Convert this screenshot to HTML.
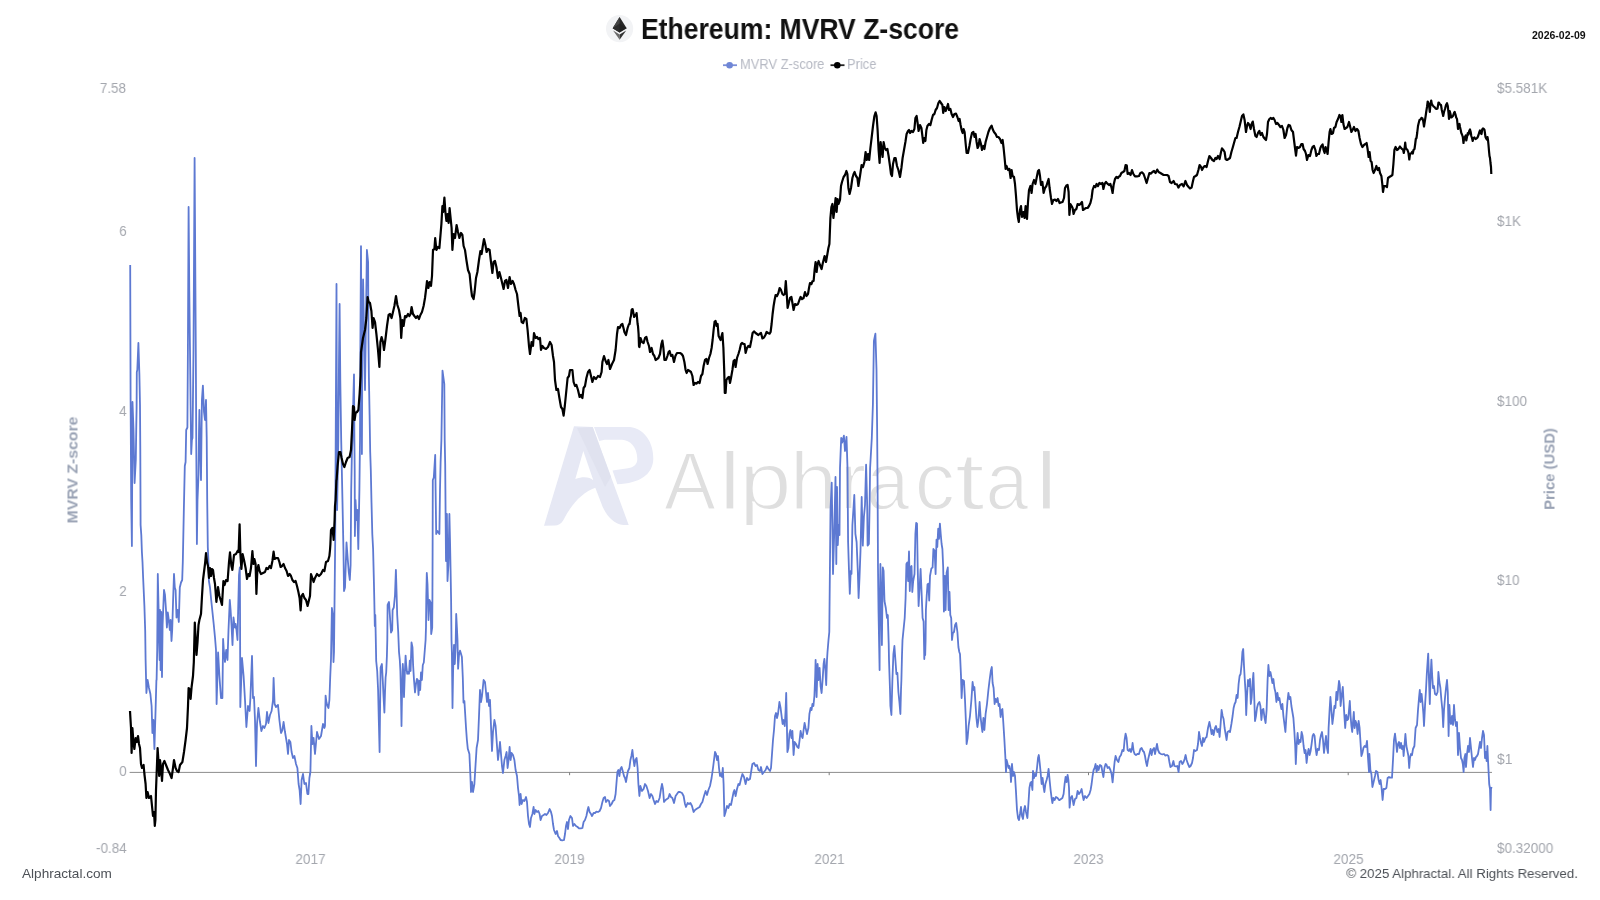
<!DOCTYPE html>
<html><head><meta charset="utf-8">
<style>
html,body{margin:0;padding:0;background:#fff;}
body{width:1600px;height:900px;position:relative;overflow:hidden;font-family:"Liberation Sans",sans-serif;}
.t{position:absolute;white-space:nowrap;line-height:1;}
.t{will-change:transform;}
.ax{color:#a4a7ae;font-size:13.9px;}
.axl{transform-origin:100% 0;transform:scaleX(0.97);}
.axr{transform-origin:0 0;transform:scaleX(0.97);}
.axx{transform-origin:50% 0;transform:scaleX(0.97);}
svg{position:absolute;left:0;top:0;}
</style></head><body>
<!-- watermark -->
<svg width="1600" height="900" viewBox="0 0 1600 900">
  <g id="wm">
    <path fill-rule="evenodd" d="M574,426.3 L592.7,427 L628.7,525 L623.3,525 C615,524 608,518 602.7,507 L595.3,487.7 C583,492 572,503 563.3,520.3 C561,524 558,525.5 555,525.5 L544,525.7 Z M583.3,451 L593.3,480.3 C590,477.5 584,476 575.3,479 Z" fill="#e6e8f4"/>
    <path d="M577,428 L592.7,427 L611,477 L605,487 Z" fill="#e0e2ef"/>
    <path d="M594,427 L630,427 C645,429 653.5,443 653.3,459 C653,474 640,483.5 617.3,484.3 L612.5,470.5 L628,468.3 C634,467.5 637.3,464 637.3,459 C637.3,447 630,440 622,439.7 L604.7,439.7 L599.3,441 Z" fill="#e8eaf6"/>
  </g>
  <g id="wmt" font-family="Liberation Sans, sans-serif" font-size="82" fill="#dfdfdf" stroke="#fff" stroke-width="1.8" paint-order="fill stroke"><text transform="translate(663.90,508.6) scale(0.949,1)">A</text><text transform="translate(718.38,508.6) scale(1.250,1)">l</text><text transform="translate(738.98,508.6) scale(1.156,1)">p</text><text transform="translate(789.82,508.6) scale(1.040,1)">h</text><text transform="translate(839.82,508.6) scale(0.964,1)">r</text><text transform="translate(866.37,508.6) scale(0.945,1)">a</text><text transform="translate(914.70,508.6) scale(0.979,1)">c</text><text transform="translate(954.70,508.6) scale(1.318,1)">t</text><text transform="translate(985.39,508.6) scale(0.940,1)">a</text><text transform="translate(1034.88,508.6) scale(1.250,1)">l</text></g>
  <line x1="129.6" y1="772.4" x2="1492" y2="772.4" stroke="#8c8c8c" stroke-width="1"/>
  <line x1="310.0" y1="772.4" x2="310.0" y2="775.2" stroke="#7d7d7d" stroke-width="1"/><line x1="569.6" y1="772.4" x2="569.6" y2="775.2" stroke="#7d7d7d" stroke-width="1"/><line x1="829.2" y1="772.4" x2="829.2" y2="775.2" stroke="#7d7d7d" stroke-width="1"/><line x1="1088.5" y1="772.4" x2="1088.5" y2="775.2" stroke="#7d7d7d" stroke-width="1"/><line x1="1348.2" y1="772.4" x2="1348.2" y2="775.2" stroke="#7d7d7d" stroke-width="1"/>
  <polyline id="blue" fill="none" stroke="#5d79d2" stroke-width="1.8" stroke-linejoin="round" points="130.2,265.0 130.6,400.0 131.2,500.0 131.9,546.0 132.3,450.0 132.5,402.0 133.5,430.0 134.6,483.0 135.8,460.0 136.3,425.0 136.6,408.0 136.8,372.0 137.3,370.0 138.4,343.0 139.4,375.0 140.0,405.0 140.3,450.0 140.6,525.0 141.3,535.0 141.9,552.0 142.5,562.0 143.1,577.0 144.4,606.0 145.2,631.0 145.6,660.0 146.4,693.0 147.6,680.0 149.0,688.0 150.4,694.0 151.6,706.0 152.4,733.0 153.4,720.0 154.4,749.0 155.4,716.0 156.4,680.0 156.6,680.0 157.2,650.0 157.8,574.0 158.5,605.0 159.0,640.0 159.6,660.0 160.0,610.0 160.6,670.0 161.2,612.0 162.0,677.0 162.6,625.0 163.1,612.0 164.0,590.0 165.0,595.0 166.0,610.0 166.9,627.5 167.8,612.5 168.8,620.0 169.8,630.0 170.6,620.0 171.5,641.0 172.2,630.0 173.1,600.0 174.0,574.0 174.8,587.5 175.6,590.0 176.5,617.5 177.5,610.0 178.8,622.0 179.8,587.5 181.0,582.5 182.2,580.0 182.8,562.0 183.8,512.0 184.8,466.0 185.6,462.0 186.2,430.0 187.4,427.5 187.9,350.0 188.6,207.0 189.3,291.0 190.0,350.0 190.6,405.0 191.2,454.0 191.9,440.0 192.5,438.0 192.9,405.0 193.5,350.0 194.6,158.0 195.8,350.0 196.3,450.0 196.9,544.0 197.5,500.0 198.5,475.0 199.0,432.0 199.4,410.0 200.2,450.0 201.0,480.0 201.9,400.0 202.9,385.6 204.0,412.0 205.0,420.0 206.0,400.0 206.7,437.0 207.2,500.0 207.8,547.0 208.4,560.0 208.9,581.0 210.0,587.5 211.2,600.0 212.5,612.5 213.8,625.0 215.0,637.5 216.0,650.0 216.6,704.0 218.1,652.5 219.4,676.0 221.0,698.0 222.4,698.0 223.1,639.0 223.8,650.0 225.0,662.0 226.2,650.0 227.5,660.0 228.5,630.0 229.8,600.0 230.6,610.0 231.5,625.0 232.5,645.0 233.5,617.5 234.8,627.5 235.6,624.0 236.5,630.0 237.5,640.0 238.1,612.5 239.0,575.0 239.8,567.5 240.0,600.0 240.3,707.0 242.0,658.0 243.6,676.0 245.0,700.0 246.4,727.0 248.0,706.0 249.6,711.0 250.4,698.0 252.0,656.0 253.0,698.0 254.0,697.0 255.0,720.0 256.0,766.0 257.0,724.0 258.4,708.0 260.0,722.0 261.4,731.0 263.0,726.0 264.4,728.0 266.0,724.0 267.0,712.0 268.4,723.0 270.0,715.0 271.6,711.0 273.0,700.0 273.6,678.0 274.6,704.0 276.0,707.0 278.0,705.0 279.4,720.0 281.0,733.0 282.4,730.0 283.6,722.0 285.0,732.0 287.0,744.0 288.0,754.0 289.0,740.0 290.4,742.0 291.6,752.0 293.0,758.0 294.4,756.0 296.0,764.0 297.4,768.0 298.6,784.0 299.6,790.0 300.6,804.0 301.6,780.0 303.0,774.0 304.4,784.0 306.0,783.0 307.4,794.0 308.4,794.0 309.4,778.0 310.4,772.0 311.4,726.0 312.4,744.0 313.6,738.0 315.0,754.0 317.0,732.0 319.0,739.0 321.0,736.0 323.0,724.0 324.4,728.0 325.0,726.0 325.6,695.6 326.5,702.5 327.5,706.0 328.5,708.0 329.4,700.0 330.2,677.5 331.0,659.0 331.9,608.0 332.8,615.0 333.5,662.0 334.0,652.0 335.2,540.0 335.8,420.0 336.5,284.0 336.8,400.0 337.1,510.0 338.3,440.0 339.0,360.0 339.6,304.0 340.3,380.0 341.2,440.0 342.5,502.5 343.5,552.5 344.0,591.0 345.0,587.5 346.5,542.5 347.5,556.0 348.8,572.5 349.8,580.0 350.6,565.0 351.2,490.0 351.9,452.5 352.5,440.0 353.3,400.0 354.0,374.4 354.4,440.0 354.7,471.0 354.9,536.0 355.5,500.0 356.5,520.0 357.3,510.0 358.3,549.0 359.4,490.0 360.0,440.0 360.4,340.0 361.0,246.2 361.4,340.0 361.9,454.0 362.4,340.0 363.1,279.4 364.0,330.0 365.0,390.0 365.8,330.0 366.9,250.0 368.1,262.0 368.5,340.0 368.9,377.5 369.6,415.0 370.2,452.0 370.8,470.0 371.5,502.5 372.3,534.0 373.1,549.0 373.8,577.5 374.3,600.0 374.8,626.0 375.3,615.0 375.8,640.0 376.2,661.0 377.2,671.0 378.1,690.0 378.8,720.0 379.6,752.0 380.0,715.0 380.6,667.5 381.9,664.0 382.8,681.0 383.5,696.0 384.4,712.5 385.0,692.5 385.6,677.5 386.2,672.5 386.9,656.0 387.3,640.0 387.6,605.0 389.0,602.0 390.0,617.5 391.0,632.5 392.2,630.0 392.6,610.0 393.8,607.5 395.0,595.0 395.9,569.8 396.5,590.0 397.2,615.0 398.2,632.0 399.0,652.0 399.8,660.0 400.4,671.0 401.0,696.0 401.5,726.0 402.1,690.0 402.8,664.0 403.5,677.5 404.0,697.0 404.8,673.8 405.6,655.6 406.2,665.0 407.2,673.8 408.1,672.0 409.0,673.8 409.8,660.6 410.6,671.0 411.5,642.5 412.5,647.5 413.1,665.0 414.0,680.0 415.0,692.5 416.0,683.8 416.9,678.8 417.8,680.0 418.5,695.0 419.4,681.0 420.2,690.0 421.0,672.5 421.9,680.0 422.8,665.0 423.8,662.5 424.8,650.0 425.6,640.0 426.0,627.0 426.3,596.0 426.8,573.0 427.5,584.0 428.5,620.0 429.4,600.0 430.6,602.5 431.2,634.0 432.2,627.5 432.4,602.5 432.6,552.0 432.8,480.0 433.8,477.5 435.2,455.0 435.6,490.0 436.2,534.0 437.5,531.0 439.4,534.0 440.0,490.0 440.6,462.5 441.4,440.0 442.5,370.6 444.3,384.0 444.7,440.0 445.2,465.0 445.6,515.0 446.0,561.0 446.9,514.0 447.5,581.0 448.4,565.0 449.4,514.0 450.0,540.0 450.6,571.0 451.1,600.0 451.5,640.0 451.9,652.5 452.5,708.0 453.1,671.0 454.0,645.0 454.8,664.0 455.6,647.5 456.2,614.0 456.9,627.5 457.5,640.0 458.1,668.8 459.0,655.0 460.0,650.6 461.0,653.8 461.9,657.0 462.8,677.5 463.5,702.5 464.4,701.0 465.0,711.0 466.0,727.5 466.9,740.0 467.8,748.8 468.8,752.0 469.4,754.0 470.4,776.0 471.0,792.0 472.0,782.0 473.0,792.0 474.4,784.0 475.6,764.0 476.6,748.0 478.0,740.0 479.0,716.0 480.0,690.0 481.0,702.0 482.0,696.0 483.6,680.0 485.0,682.0 486.0,692.0 487.0,702.0 488.0,693.0 489.0,706.0 490.0,700.0 491.0,726.0 492.0,751.0 493.0,732.0 494.4,720.0 495.6,726.0 497.0,746.0 498.0,760.0 499.4,748.0 500.0,742.0 501.0,754.0 502.0,766.0 503.0,773.0 504.4,760.0 505.6,756.0 506.6,752.0 507.6,768.0 508.6,760.0 509.6,747.0 510.6,760.0 511.6,753.0 513.0,755.0 514.4,760.0 515.6,770.0 517.0,776.0 518.0,788.0 519.0,796.0 519.6,805.0 520.6,794.0 521.6,804.0 523.0,800.0 524.4,801.0 526.0,797.0 527.0,802.0 528.0,816.0 529.0,824.0 530.0,827.0 531.0,818.0 532.4,814.0 533.6,807.0 534.4,814.0 535.6,810.0 537.0,812.0 538.4,811.0 539.6,814.0 540.6,820.0 542.0,816.0 543.6,815.0 545.0,814.0 546.4,815.0 548.0,813.0 549.6,809.0 551.0,812.0 552.0,816.0 553.0,824.0 554.0,830.0 555.6,834.0 557.0,831.0 558.0,836.0 559.4,838.0 560.6,840.0 562.4,840.4 564.0,840.0 565.0,834.0 566.0,826.0 567.0,822.0 568.0,829.0 569.0,820.0 570.4,816.0 572.0,818.0 573.0,826.0 574.4,824.0 576.0,826.0 577.6,827.0 579.0,828.4 581.0,828.4 582.4,828.0 583.6,822.0 585.0,820.0 586.4,816.0 587.6,810.0 588.4,807.0 589.6,812.0 591.0,814.0 592.0,816.0 593.6,813.0 595.0,813.0 596.4,811.6 598.0,812.0 599.6,811.0 601.0,808.0 602.4,802.0 603.6,798.0 605.0,797.0 606.0,802.0 607.6,800.0 609.0,801.0 610.0,806.0 611.6,804.0 613.0,801.0 614.4,800.0 615.6,794.0 616.4,784.0 617.4,772.0 618.4,770.0 619.4,776.0 620.4,769.0 621.6,767.0 623.0,772.0 624.0,776.0 625.0,778.0 626.0,782.0 627.0,776.0 628.0,771.0 629.4,768.0 630.4,760.0 631.4,756.0 632.4,750.0 633.4,759.0 634.4,766.0 635.4,760.0 636.6,758.0 637.6,768.0 638.4,784.0 639.4,796.0 640.4,786.0 642.0,791.0 643.6,789.0 645.0,784.0 646.4,786.0 648.0,791.0 649.6,798.0 651.0,794.0 652.4,796.0 653.6,800.0 655.0,804.0 656.4,801.0 658.0,802.0 659.6,798.0 661.0,789.0 662.0,784.0 663.0,789.0 664.0,802.0 665.6,800.0 667.0,799.0 668.4,798.0 669.6,794.0 671.0,797.0 672.4,798.0 674.0,803.0 675.6,796.0 677.0,794.0 678.4,792.0 680.0,792.0 682.0,793.0 683.6,796.0 685.0,804.0 686.0,807.0 687.6,803.0 689.0,804.0 690.4,803.0 692.0,806.0 693.6,812.0 695.0,810.0 696.4,809.0 698.0,808.0 699.6,807.0 701.0,804.0 702.4,802.0 704.0,796.0 705.6,791.0 707.0,795.0 708.4,790.0 710.0,786.0 711.6,778.0 713.0,768.0 714.0,760.0 715.0,752.0 716.0,754.0 717.0,760.0 718.0,756.0 719.0,768.0 720.0,776.0 721.0,774.0 722.0,777.0 722.8,768.0 723.6,784.0 724.4,816.0 725.6,812.0 727.0,806.0 728.4,808.0 729.6,804.0 731.0,805.0 732.0,800.0 733.6,792.0 734.4,790.0 735.6,796.0 737.0,789.0 738.4,784.0 739.6,785.0 741.0,779.0 742.4,774.0 744.0,777.0 745.6,784.0 747.0,778.0 748.4,780.0 750.0,779.0 751.4,770.0 752.4,764.0 754.0,763.0 755.6,766.0 757.0,765.0 758.4,770.0 760.0,771.0 761.0,767.0 762.4,774.0 764.0,772.0 765.6,770.0 767.0,766.4 768.4,769.0 770.0,771.0 771.0,768.0 772.0,754.0 773.0,740.0 774.0,730.0 775.0,716.0 776.0,713.0 777.0,718.0 778.0,714.0 779.4,702.0 780.6,708.0 781.6,716.0 782.6,724.0 783.6,720.0 784.8,726.0 785.6,710.0 786.2,693.0 786.8,720.0 787.4,752.0 788.4,748.0 789.4,734.0 790.4,730.0 791.4,738.0 792.4,731.0 793.6,755.0 794.6,742.0 796.0,744.0 797.4,747.0 798.6,748.0 799.6,740.0 800.6,731.0 801.6,736.0 802.6,738.0 803.6,730.0 804.6,723.0 805.6,728.0 807.0,734.0 808.4,728.0 809.4,714.0 810.6,708.0 811.6,710.0 812.4,704.0 813.4,706.0 814.4,696.0 815.2,676.0 815.6,660.0 816.6,697.0 817.6,664.0 818.6,680.0 819.6,668.0 820.6,686.0 821.6,693.0 822.6,680.0 823.6,664.0 824.4,659.0 825.4,670.0 826.2,685.0 827.0,660.0 827.5,652.0 828.5,640.0 829.3,632.0 830.0,560.0 830.5,510.0 831.7,482.6 832.5,530.0 833.0,574.0 834.2,534.0 835.5,477.0 836.3,564.0 837.0,487.0 837.8,545.0 838.6,525.0 839.5,535.0 840.0,468.0 841.2,438.0 842.2,442.5 843.9,435.7 845.0,451.0 846.5,436.8 847.5,468.0 848.1,542.0 849.0,571.0 849.8,593.8 850.7,571.0 851.5,574.0 852.4,525.0 853.7,505.0 854.3,495.0 855.4,533.8 856.6,542.0 857.8,571.0 858.6,598.0 859.5,577.7 860.5,550.7 861.7,497.0 862.8,545.6 863.9,517.0 865.0,505.0 866.1,464.7 867.2,506.0 867.6,545.6 868.9,544.0 869.6,505.0 870.1,468.0 871.8,438.0 872.9,404.5 873.9,341.0 875.4,333.7 876.5,369.6 877.1,425.6 877.6,489.0 878.0,567.5 878.5,610.0 879.2,648.0 879.6,670.0 879.9,600.0 880.4,564.0 881.2,600.0 881.9,645.0 882.8,567.5 883.6,571.0 884.5,601.0 885.8,608.0 887.0,618.0 887.8,615.0 888.7,643.5 889.0,660.0 890.0,690.0 890.4,706.0 891.4,715.0 892.4,680.0 893.4,654.0 894.4,646.0 895.4,660.0 896.4,674.0 897.4,673.0 898.4,692.0 899.4,702.0 900.4,714.0 901.0,690.0 901.4,680.0 902.0,655.0 902.5,640.0 903.0,635.0 904.7,618.0 905.6,598.0 906.4,564.0 907.3,562.5 908.1,581.0 909.0,551.5 909.8,591.0 910.6,567.5 911.5,566.0 912.3,592.0 913.2,581.0 914.5,574.0 915.4,534.0 916.2,522.8 917.0,523.6 917.7,567.5 918.6,606.0 919.6,588.0 920.6,569.0 921.6,593.0 922.6,618.0 923.6,621.6 924.3,659.0 924.8,646.0 925.2,655.0 925.6,640.0 925.9,610.0 926.7,596.0 927.5,584.5 928.4,583.6 929.2,600.5 930.0,576.0 931.4,568.4 932.6,567.5 933.4,549.0 934.6,550.7 935.6,574.0 936.5,539.7 937.3,547.0 938.2,528.7 939.0,538.9 939.9,523.6 940.7,533.8 941.6,544.0 942.4,549.0 943.2,567.5 943.9,611.5 944.9,576.0 945.6,610.0 946.6,572.6 947.8,567.5 948.6,610.0 949.5,592.0 950.3,615.0 951.2,618.0 952.0,640.0 952.9,633.0 954.0,632.0 955.1,625.0 956.2,623.0 957.4,632.0 958.4,647.0 959.3,652.0 960.0,654.0 961.0,676.0 961.6,698.0 962.6,680.0 964.0,681.0 965.0,700.0 966.0,724.0 966.6,744.0 967.6,738.0 968.6,726.0 970.0,716.0 971.4,700.0 972.6,682.0 973.6,690.0 974.4,687.0 975.4,702.0 976.4,718.0 977.4,727.0 978.4,720.0 979.6,702.0 980.6,717.0 981.6,726.0 982.4,732.0 983.4,718.0 984.4,730.0 985.6,714.0 987.0,704.0 988.4,690.0 989.6,680.0 990.8,671.0 991.8,667.0 992.6,683.0 993.6,688.0 994.6,704.0 995.6,699.0 996.6,702.0 997.6,698.0 998.6,706.0 999.6,704.0 1000.6,717.0 1001.6,710.0 1002.4,709.0 1003.4,724.0 1004.4,740.0 1005.4,758.0 1006.0,772.0 1006.6,760.0 1007.6,764.0 1008.6,768.0 1009.4,766.0 1010.4,771.0 1011.0,782.0 1012.0,764.0 1013.0,776.0 1014.0,772.0 1015.0,776.0 1016.0,792.0 1017.0,810.0 1018.0,818.0 1019.0,820.0 1020.0,814.0 1021.0,807.0 1022.0,816.0 1023.0,819.0 1024.0,810.0 1025.0,806.0 1026.0,812.0 1027.4,818.0 1028.4,804.0 1029.4,788.0 1030.4,783.0 1031.4,782.0 1032.4,790.0 1033.0,771.0 1034.0,778.0 1035.0,774.0 1036.0,776.0 1037.0,768.0 1038.0,758.0 1038.8,755.0 1039.6,762.0 1040.6,772.0 1041.6,784.0 1042.6,778.0 1043.6,787.0 1044.4,792.0 1045.4,784.0 1046.6,780.0 1047.6,776.0 1048.6,769.0 1049.6,780.0 1050.6,790.0 1051.6,798.0 1052.4,803.0 1053.4,798.0 1054.6,800.0 1056.0,797.0 1057.6,798.0 1059.0,800.0 1059.6,800.0 1061.0,799.0 1062.4,798.0 1063.6,794.0 1064.6,784.0 1065.6,777.0 1066.6,782.0 1067.6,775.0 1068.4,780.0 1069.0,788.0 1069.6,807.6 1070.6,798.0 1072.0,796.0 1073.6,805.0 1075.0,799.0 1076.4,798.0 1077.6,791.0 1079.0,794.0 1080.4,792.0 1081.6,789.0 1082.6,795.0 1083.6,800.0 1085.0,796.0 1086.6,798.0 1088.0,796.0 1089.4,794.0 1090.6,790.0 1091.6,784.0 1092.6,776.0 1093.6,770.0 1094.6,768.0 1095.6,764.0 1096.6,772.0 1097.6,766.0 1098.6,770.0 1100.0,765.0 1101.4,766.0 1102.4,772.0 1103.4,777.0 1104.4,768.0 1105.6,764.0 1106.6,765.0 1107.6,768.0 1109.0,767.0 1110.4,770.0 1111.6,774.0 1112.6,782.4 1113.6,772.0 1114.6,762.0 1115.6,756.0 1117.0,760.0 1118.4,762.0 1119.6,757.0 1121.0,755.0 1122.4,750.0 1123.6,751.0 1124.6,740.0 1125.6,733.6 1126.6,738.0 1127.6,750.0 1129.0,751.0 1130.0,749.0 1131.0,752.0 1132.0,748.0 1132.6,743.0 1133.6,751.0 1134.6,754.0 1136.0,755.0 1137.4,754.0 1139.0,754.0 1140.4,749.0 1141.6,748.0 1143.0,751.0 1144.0,752.0 1145.0,756.0 1146.0,762.0 1147.0,766.0 1148.0,760.0 1149.4,754.0 1150.6,749.0 1151.6,755.0 1152.6,750.0 1154.0,748.0 1155.0,754.0 1156.0,749.0 1157.0,744.0 1158.0,750.0 1159.4,753.0 1161.0,754.0 1162.4,754.4 1164.0,754.0 1165.4,755.6 1167.0,755.0 1168.4,756.0 1169.4,762.0 1170.4,767.0 1172.0,766.0 1173.4,761.0 1174.4,766.0 1176.0,766.4 1177.4,766.0 1178.6,772.0 1179.6,762.0 1181.0,761.0 1182.4,764.0 1183.6,762.0 1184.6,759.0 1185.6,755.0 1186.6,760.0 1188.0,764.0 1189.4,767.0 1190.6,766.0 1192.0,763.0 1193.0,758.0 1194.0,750.0 1195.4,751.0 1197.0,750.0 1198.0,744.0 1199.0,732.0 1200.0,738.0 1201.0,743.0 1202.0,746.0 1203.0,738.0 1204.0,742.0 1205.4,738.0 1206.6,737.0 1208.0,728.0 1209.4,722.0 1210.6,728.0 1211.6,734.0 1212.6,730.0 1213.6,735.0 1215.0,728.0 1216.0,726.0 1217.4,732.0 1218.6,729.0 1219.6,737.0 1220.6,724.0 1221.6,710.0 1222.6,716.0 1223.6,719.0 1224.6,728.0 1225.6,734.0 1226.6,740.0 1227.6,732.0 1229.0,731.0 1230.0,732.0 1231.4,724.0 1232.6,716.0 1233.6,708.0 1234.6,704.0 1235.6,702.0 1236.6,695.0 1237.6,698.0 1238.6,684.0 1239.6,676.0 1240.6,674.0 1241.6,664.0 1242.4,652.0 1243.2,649.0 1244.0,666.0 1244.8,680.0 1245.6,693.0 1246.2,715.0 1247.0,696.0 1248.0,680.0 1249.0,686.0 1250.0,679.0 1250.8,704.0 1251.6,698.0 1252.6,682.0 1253.4,673.0 1254.2,696.0 1255.0,721.0 1256.0,716.0 1257.0,708.0 1258.0,704.0 1259.4,702.0 1260.4,706.0 1261.4,720.0 1262.4,710.0 1263.4,709.0 1264.4,717.0 1265.6,723.0 1266.6,710.0 1267.6,680.0 1268.4,665.0 1269.4,676.0 1270.4,672.0 1271.4,677.0 1272.4,683.0 1273.4,679.0 1274.4,688.0 1275.4,692.0 1276.4,702.0 1277.4,693.0 1278.4,700.0 1279.4,698.0 1280.4,704.0 1281.4,709.0 1282.4,704.0 1283.4,716.0 1284.4,724.0 1285.4,732.0 1286.4,716.0 1287.4,702.0 1288.4,693.0 1289.4,699.0 1290.4,697.0 1291.4,706.0 1292.4,712.0 1293.4,718.0 1294.4,732.0 1295.2,746.0 1295.8,764.0 1296.6,746.0 1297.6,733.0 1298.6,744.0 1299.6,740.0 1300.6,742.0 1301.6,732.0 1302.6,736.0 1303.6,746.0 1304.6,753.0 1305.6,750.0 1306.6,763.0 1307.6,754.0 1308.6,749.0 1309.6,755.0 1310.6,751.0 1311.6,744.0 1312.6,736.0 1313.6,734.0 1314.6,736.0 1315.6,748.0 1316.6,755.0 1317.6,749.0 1319.0,750.0 1320.0,740.0 1321.0,735.0 1322.0,732.0 1323.0,740.0 1324.0,753.0 1325.0,744.0 1326.0,736.0 1327.0,748.0 1328.0,753.0 1328.6,728.0 1329.6,710.0 1330.4,697.0 1331.4,710.0 1332.4,724.0 1333.4,716.0 1334.4,706.0 1335.4,708.0 1336.4,692.0 1337.4,700.0 1338.2,689.0 1339.0,681.0 1339.8,685.0 1340.6,706.0 1341.6,696.0 1342.8,687.0 1343.6,702.0 1344.4,716.0 1345.2,728.0 1346.2,715.0 1347.2,720.0 1348.2,719.0 1349.0,710.0 1349.8,701.0 1350.6,716.0 1351.4,726.0 1352.2,732.0 1353.0,722.0 1353.8,712.0 1354.6,728.0 1355.6,721.0 1356.6,724.0 1357.6,734.0 1358.6,721.0 1359.6,728.0 1360.6,744.0 1361.4,756.0 1362.4,753.0 1363.4,748.0 1364.6,746.0 1366.0,747.0 1367.0,741.0 1368.0,758.0 1369.0,772.0 1369.4,754.0 1370.4,770.0 1371.4,774.0 1372.4,787.0 1373.6,782.0 1375.0,776.0 1376.0,771.0 1377.4,772.0 1378.6,780.0 1379.6,784.0 1380.6,780.0 1381.6,788.0 1382.6,800.0 1383.6,789.0 1385.0,789.0 1386.4,788.0 1387.6,778.0 1389.0,777.0 1390.4,777.6 1392.0,777.6 1393.0,760.0 1394.0,740.0 1395.0,733.6 1396.0,742.0 1397.0,752.0 1398.0,744.0 1399.0,742.0 1400.0,748.0 1401.0,743.0 1402.0,749.0 1403.0,746.0 1403.6,756.0 1404.6,744.0 1405.4,734.0 1406.4,746.0 1407.4,751.0 1408.4,756.0 1409.2,768.0 1410.0,758.0 1411.0,754.0 1412.0,755.0 1413.0,749.0 1414.4,746.0 1415.6,728.0 1417.0,725.0 1418.0,710.0 1419.0,698.0 1419.8,690.0 1420.6,702.0 1421.6,694.0 1422.6,704.0 1423.4,714.0 1424.0,726.0 1425.0,706.0 1426.0,690.0 1426.8,674.0 1427.6,662.0 1428.2,653.6 1429.0,680.0 1429.8,704.0 1430.6,676.0 1431.4,659.6 1432.2,676.0 1433.0,688.0 1434.0,686.0 1435.0,694.0 1436.4,695.0 1437.6,692.0 1438.4,672.0 1439.4,682.0 1440.4,688.0 1441.4,700.0 1442.4,710.0 1443.2,727.0 1444.0,710.0 1445.0,698.0 1446.0,688.0 1447.0,680.0 1447.8,692.0 1448.6,736.0 1449.4,705.0 1450.2,720.0 1451.0,724.0 1452.0,716.0 1453.0,725.0 1454.0,705.0 1455.0,720.0 1456.0,726.0 1457.0,722.0 1458.0,755.0 1459.0,733.0 1460.0,748.0 1461.0,758.0 1462.0,760.0 1462.8,764.0 1463.6,772.0 1464.4,758.0 1465.4,754.0 1466.0,767.0 1467.0,754.0 1468.0,746.0 1469.0,752.0 1470.0,738.0 1471.0,748.0 1472.0,758.0 1473.0,767.0 1474.0,758.0 1475.0,760.0 1476.0,757.0 1477.0,756.0 1478.0,754.0 1479.0,748.0 1480.0,742.0 1481.0,748.0 1482.0,738.0 1483.0,731.0 1484.0,735.0 1485.0,758.0 1486.0,752.0 1486.6,761.0 1487.4,746.0 1488.0,760.0 1488.6,772.0 1489.2,784.0 1490.0,789.0 1490.6,810.0 1491.0,789.0 1491.6,787.0"/>
  <polyline id="black" fill="none" stroke="#000" stroke-width="2.2" stroke-linejoin="round" points="130.0,711.0 131.0,728.0 131.6,753.0 132.4,728.0 133.6,744.0 134.4,749.0 135.6,738.0 136.8,742.0 138.0,736.0 139.0,744.0 140.0,748.0 141.0,764.0 142.0,768.0 143.6,765.0 144.4,774.0 145.6,784.0 146.4,798.0 147.6,792.0 149.0,798.0 151.0,796.0 152.0,806.0 153.0,816.0 154.0,812.0 154.8,826.0 155.4,820.0 156.0,790.0 157.0,764.0 157.6,748.0 158.4,760.0 159.2,776.0 160.0,760.0 161.0,768.0 162.0,781.0 163.0,764.0 164.4,761.0 166.0,765.0 168.0,770.0 170.0,774.0 171.6,778.0 173.0,768.0 174.0,760.0 175.6,768.0 177.0,771.0 178.6,772.0 180.0,765.0 182.4,762.0 184.0,752.0 185.6,740.0 187.0,728.0 188.0,706.0 188.6,688.0 190.0,690.0 190.6,699.0 191.6,687.0 193.0,676.0 193.8,662.5 194.8,622.5 195.6,637.5 196.5,655.0 197.5,642.5 198.5,625.0 199.4,620.0 201.0,614.0 202.0,596.0 203.0,580.0 204.0,572.0 205.0,564.0 206.0,553.0 207.0,562.0 208.0,566.0 209.0,578.0 210.0,568.0 211.0,576.0 212.0,569.0 213.0,570.0 214.0,578.0 215.0,584.0 216.4,602.0 218.0,587.0 219.4,596.0 220.6,600.0 222.0,605.0 223.4,581.0 224.6,585.0 226.0,580.0 227.6,581.0 229.0,562.0 230.0,552.4 231.4,566.0 232.4,570.0 234.0,555.0 236.0,554.0 237.6,551.0 238.6,552.0 239.6,524.4 240.4,554.0 241.4,569.0 242.6,554.0 244.0,560.0 245.6,568.0 247.0,579.0 248.4,574.0 249.6,576.0 251.0,568.0 252.4,551.0 253.4,564.0 254.4,559.0 255.6,564.0 256.4,594.0 257.4,569.0 258.4,565.0 259.6,571.0 261.0,574.0 263.0,573.0 265.0,572.0 266.4,568.0 268.0,569.0 269.6,566.0 271.0,568.0 272.4,561.0 273.6,551.6 274.6,559.0 276.4,558.0 278.0,558.0 279.4,562.0 280.6,567.0 282.0,566.0 283.6,564.0 285.0,568.0 286.6,571.0 288.0,576.0 289.6,574.0 291.0,576.0 292.4,580.0 294.0,582.0 295.6,581.0 297.0,586.0 298.4,592.0 299.6,598.0 300.6,610.4 301.6,596.0 303.0,594.0 304.4,598.0 306.0,600.0 307.6,606.0 309.0,600.0 310.0,596.0 311.0,574.0 312.4,578.0 313.6,582.0 315.0,578.0 317.0,574.0 319.0,576.0 321.0,574.0 323.0,570.0 324.4,571.0 326.0,562.0 328.0,561.0 329.4,556.0 330.0,550.0 330.4,544.0 331.0,530.0 331.6,529.0 332.4,528.0 332.6,530.0 333.6,539.0 333.6,540.0 334.6,520.0 335.0,506.0 335.6,500.0 336.4,480.0 336.6,480.0 337.6,466.0 337.6,466.0 339.0,452.0 340.4,452.0 341.6,458.0 343.0,464.0 344.4,467.0 346.0,462.0 347.6,458.0 349.6,457.0 351.0,450.0 352.0,430.0 353.0,406.0 354.0,407.0 354.6,420.0 355.6,413.0 357.0,412.0 358.4,410.0 359.6,394.0 360.6,376.0 361.0,352.0 363.0,338.0 365.0,330.0 366.4,318.0 367.6,297.0 368.6,302.0 370.0,303.0 371.4,311.0 372.6,328.0 373.6,318.0 375.0,322.0 376.4,334.0 378.0,350.0 379.4,367.0 380.4,342.0 381.6,337.0 383.0,342.0 384.0,350.0 385.6,338.0 387.0,326.0 388.6,315.0 390.0,314.0 391.6,318.0 393.0,312.0 394.4,306.0 396.0,296.0 397.4,305.0 399.0,310.0 400.4,318.0 401.2,338.0 402.4,320.0 403.6,326.0 405.0,316.0 406.4,317.0 408.0,314.0 409.4,316.0 410.6,314.0 411.6,307.0 413.0,314.0 414.4,316.0 416.0,318.0 417.6,316.0 419.0,319.0 420.4,315.0 422.0,312.0 423.6,306.0 425.0,298.0 426.0,290.0 427.0,281.0 428.4,288.0 429.6,282.0 431.0,286.0 432.0,276.0 433.0,250.0 434.4,249.0 435.2,238.0 436.4,250.0 438.0,247.0 439.4,248.0 440.4,236.0 441.4,224.0 442.4,206.0 443.2,212.0 444.4,197.6 445.4,212.0 446.4,221.0 447.6,214.0 448.6,223.0 449.6,208.0 450.6,218.0 451.6,228.0 452.4,250.0 453.6,234.0 455.0,238.0 456.6,225.0 458.0,232.0 459.4,238.0 461.0,233.0 462.4,235.0 463.6,246.0 465.0,250.0 466.4,260.0 468.0,270.0 469.6,274.0 471.0,288.0 472.0,296.0 473.6,299.0 474.6,292.0 476.0,278.0 477.4,272.0 479.0,260.0 480.4,251.0 481.6,254.0 482.8,246.0 484.0,239.0 485.4,245.0 486.6,252.0 488.0,249.0 489.6,250.0 491.0,262.0 492.4,273.0 493.6,262.0 495.0,261.0 496.4,267.0 498.0,278.0 499.4,272.0 501.0,278.0 502.4,284.0 503.6,289.0 505.0,281.0 506.4,280.0 508.0,288.0 509.6,277.0 511.0,284.0 512.6,281.0 514.0,284.0 515.6,290.0 517.0,294.0 518.4,306.0 519.6,316.0 520.6,313.0 521.6,322.0 523.2,323.0 524.8,318.0 526.4,319.0 527.6,330.0 529.0,346.0 530.0,354.0 531.6,342.0 533.0,346.0 534.0,333.0 535.6,338.0 537.0,337.0 538.4,339.0 540.0,338.0 541.0,350.0 542.4,346.0 544.0,348.0 546.0,349.0 548.0,347.0 550.0,342.0 551.6,345.0 553.0,356.0 554.0,362.0 555.0,380.0 556.4,390.0 558.0,389.0 559.4,398.0 561.0,407.0 562.4,409.0 563.6,415.6 564.8,406.0 566.4,390.0 567.6,378.0 569.0,376.0 570.0,370.0 572.4,370.0 573.6,382.0 575.0,386.0 576.4,385.0 578.0,390.0 579.6,397.0 581.0,395.0 582.4,398.0 583.6,388.0 585.0,386.0 586.4,378.0 588.0,372.0 589.6,370.0 591.0,376.0 592.4,382.0 594.0,377.0 596.0,379.0 598.0,376.0 600.0,377.0 601.6,372.0 602.4,362.0 604.0,356.0 605.6,361.0 607.0,364.0 608.4,360.0 610.0,369.0 612.0,364.0 614.0,360.0 615.6,350.0 617.0,334.0 618.0,327.0 619.6,328.0 621.0,325.0 622.4,324.0 624.0,330.0 624.4,332.0 626.0,335.0 626.0,335.0 627.6,328.0 627.6,328.0 629.0,324.0 629.6,324.0 630.4,318.0 631.0,316.0 631.6,310.0 632.4,309.0 632.6,309.0 634.0,316.0 634.0,317.0 635.4,315.0 635.6,315.0 636.4,314.0 636.6,313.0 637.6,324.0 638.0,326.0 638.6,334.0 639.0,346.0 639.4,347.0 640.6,338.0 642.0,342.0 643.6,343.0 645.0,338.0 646.4,337.0 647.6,342.0 649.0,346.0 650.0,352.0 651.6,348.0 653.0,354.0 654.4,356.0 655.6,360.0 657.0,359.0 658.4,358.0 660.0,354.0 661.4,344.0 662.4,340.6 663.4,348.0 664.4,360.0 666.0,360.0 667.4,356.0 668.6,352.0 669.6,351.0 671.0,356.0 672.4,355.0 674.0,362.0 675.4,356.0 677.0,353.0 678.4,353.0 680.0,353.0 681.6,354.0 683.0,356.0 684.4,362.0 685.6,370.0 686.6,373.0 688.0,370.0 689.6,371.0 691.0,372.0 692.4,376.0 693.6,385.0 695.0,383.0 696.4,383.6 698.0,382.0 699.6,383.0 701.0,376.0 702.4,374.0 703.6,366.0 705.0,360.0 706.4,359.0 707.6,364.0 709.0,358.0 710.4,354.0 711.6,348.0 712.6,340.0 713.6,330.0 714.6,321.6 715.6,321.0 716.6,326.0 717.6,324.0 718.6,336.0 719.6,338.0 720.6,340.0 721.6,336.0 722.4,333.0 723.4,348.0 724.2,370.0 724.8,393.0 725.6,393.0 726.4,380.0 727.6,378.0 729.0,377.0 730.0,383.0 731.0,378.0 732.4,370.0 733.6,361.0 734.6,360.0 735.6,367.0 737.0,358.0 738.4,354.0 739.6,350.0 741.0,344.0 742.0,343.0 743.4,344.0 744.6,344.0 745.6,353.0 747.0,348.0 748.4,346.0 750.0,347.0 751.4,340.0 752.6,333.0 754.0,331.4 755.6,333.0 757.0,334.0 758.4,335.0 759.6,334.0 761.0,333.0 762.4,338.4 764.0,337.6 765.4,335.0 766.6,332.0 768.0,333.0 769.6,333.6 770.6,332.0 771.6,324.0 772.6,314.0 773.6,306.0 774.6,300.0 775.6,295.0 777.0,296.0 778.4,293.0 779.6,288.0 781.0,290.0 782.4,294.0 783.6,295.0 784.8,294.0 785.8,281.0 786.6,292.0 787.6,308.0 788.6,304.0 790.0,298.0 791.4,297.0 792.6,304.0 793.6,310.0 795.0,304.0 796.4,305.0 798.0,304.0 799.4,300.0 800.6,297.0 802.0,299.0 803.6,298.0 805.0,292.0 806.4,296.0 808.0,294.0 809.0,288.0 810.0,283.0 811.4,284.0 812.6,281.0 813.6,281.0 814.6,270.0 815.6,262.0 816.6,272.0 817.6,264.0 818.6,261.0 820.0,265.0 821.6,269.0 822.6,264.0 823.6,260.0 824.6,256.0 826.0,262.0 827.4,254.0 828.4,248.0 829.4,244.0 830.4,218.0 831.4,207.0 832.4,204.0 833.4,218.0 834.4,210.0 835.6,198.0 836.6,212.0 837.6,199.0 838.6,204.0 840.0,200.0 841.0,186.0 842.0,182.0 843.6,177.0 845.0,175.0 846.4,171.0 847.4,174.0 848.4,188.0 849.6,194.0 851.0,188.0 852.4,178.0 853.6,174.0 854.6,172.0 856.0,176.0 857.4,178.0 858.4,186.0 860.0,176.0 861.6,165.0 863.0,167.0 864.4,162.0 865.6,152.0 866.8,160.0 868.0,154.0 869.2,160.0 870.4,148.0 871.6,138.0 873.0,126.0 874.4,116.0 875.6,112.4 876.6,116.0 877.6,130.0 878.6,150.0 879.6,163.0 880.6,142.0 881.6,150.0 882.6,157.0 883.6,142.0 884.8,148.0 886.0,150.0 887.4,149.0 888.6,156.0 890.0,166.0 891.0,174.0 892.0,176.0 893.0,164.0 894.4,158.0 895.6,158.0 897.0,166.0 898.4,170.0 900.0,177.0 901.4,168.0 902.6,158.0 904.0,150.0 905.4,142.0 906.6,134.0 908.0,131.0 909.0,130.0 910.0,133.0 911.4,131.0 913.0,132.0 914.4,129.0 915.4,118.0 916.6,116.0 917.6,123.0 918.6,131.0 920.0,125.0 921.4,128.0 922.4,136.0 923.2,143.0 924.4,138.0 925.4,141.0 926.4,130.0 927.4,126.0 929.0,124.0 930.4,125.0 931.6,120.0 933.0,115.0 934.4,114.0 935.6,110.0 937.0,108.0 938.4,103.0 939.6,101.0 941.0,103.0 942.4,105.0 943.2,113.0 944.4,107.0 945.6,111.0 946.8,108.0 948.0,104.0 949.0,110.0 950.4,109.0 951.6,114.0 953.0,117.0 954.4,114.0 956.0,113.6 957.4,117.0 958.6,121.0 959.6,119.0 960.6,125.0 961.6,130.0 962.6,133.0 963.6,129.0 964.6,132.0 965.6,143.0 966.6,153.0 968.0,153.0 969.4,146.0 970.6,139.0 972.0,133.0 973.4,132.0 974.6,137.0 975.6,134.0 976.6,142.0 977.6,148.0 978.6,146.0 979.6,139.0 981.0,144.0 982.0,150.0 983.4,146.0 984.4,149.0 985.6,142.0 987.0,137.0 988.4,132.0 990.0,128.0 991.6,125.6 992.6,129.0 994.0,132.0 995.6,134.0 997.0,137.0 998.4,137.0 1000.0,139.0 1001.4,143.0 1002.6,140.0 1003.6,148.0 1004.6,158.0 1005.6,169.0 1006.6,166.0 1008.0,170.0 1009.4,169.0 1010.6,178.0 1011.6,170.0 1012.6,176.0 1014.0,177.0 1015.0,184.0 1016.0,196.0 1017.0,210.0 1018.0,218.0 1018.8,222.0 1020.0,210.0 1021.0,206.0 1022.0,217.0 1023.4,212.0 1024.6,218.0 1025.6,206.0 1027.0,219.0 1028.0,202.0 1029.0,190.0 1030.4,186.0 1031.6,193.0 1032.6,184.0 1034.0,180.0 1035.4,184.0 1036.6,178.0 1038.0,171.0 1039.0,170.0 1040.0,176.0 1041.0,185.0 1042.4,182.0 1043.6,193.0 1045.0,188.0 1046.4,186.0 1047.6,182.0 1048.6,179.0 1049.6,188.0 1051.0,198.0 1052.0,204.0 1053.4,200.0 1055.0,199.6 1056.4,201.0 1058.0,199.0 1059.6,203.0 1061.0,202.4 1062.6,202.0 1064.0,198.0 1065.0,188.0 1066.4,185.6 1067.6,185.0 1068.6,192.0 1069.4,215.0 1070.4,204.0 1071.6,206.0 1072.6,208.0 1073.6,214.0 1075.0,210.0 1076.4,209.0 1077.6,204.0 1079.0,205.0 1080.4,204.0 1082.0,202.0 1083.0,210.0 1084.4,209.0 1086.0,208.0 1087.6,208.0 1089.0,206.0 1090.4,203.0 1091.6,198.0 1092.6,190.0 1094.0,186.0 1095.4,187.0 1096.6,184.0 1098.0,186.0 1099.4,183.0 1101.0,184.0 1102.4,183.0 1103.4,189.0 1104.6,184.0 1106.0,182.0 1107.4,183.6 1109.0,185.0 1110.4,184.0 1111.6,188.0 1112.6,193.0 1113.6,185.0 1115.0,179.0 1116.4,177.0 1118.0,178.0 1118.4,177.0 1120.0,176.0 1121.4,173.0 1123.0,172.0 1124.4,171.0 1125.6,165.0 1126.8,165.6 1127.6,174.0 1129.0,173.0 1130.6,175.0 1132.0,170.0 1133.4,174.0 1135.0,176.4 1137.0,176.4 1139.0,176.0 1140.4,173.0 1142.0,172.4 1143.6,174.0 1145.0,178.0 1146.6,183.0 1148.0,178.0 1149.4,173.0 1151.0,173.6 1152.4,172.0 1154.0,171.0 1155.6,173.0 1157.2,169.6 1158.6,172.0 1160.4,173.0 1162.0,174.0 1163.6,175.0 1165.4,175.0 1167.0,175.0 1168.6,176.0 1170.0,182.0 1171.6,183.0 1173.6,181.0 1175.0,184.0 1177.0,184.4 1178.4,187.6 1180.0,185.0 1182.0,184.0 1183.6,186.4 1185.4,181.0 1187.0,185.0 1188.6,187.0 1190.0,188.4 1191.6,187.6 1193.0,181.0 1194.0,177.0 1195.6,176.0 1197.0,175.0 1198.4,170.0 1199.6,165.0 1201.0,167.0 1202.0,170.0 1203.6,167.0 1205.0,166.0 1206.6,167.0 1208.0,161.0 1209.4,156.0 1211.0,158.0 1212.4,160.0 1214.0,161.0 1215.4,158.0 1216.6,159.0 1218.0,156.0 1219.6,159.0 1221.0,152.0 1222.0,148.4 1223.4,150.0 1224.6,152.0 1225.6,159.0 1227.0,160.0 1228.6,159.0 1230.0,158.0 1231.4,152.0 1232.6,148.0 1234.0,143.0 1235.4,138.0 1236.6,138.0 1238.0,132.0 1239.4,127.0 1240.6,122.0 1242.0,116.0 1243.4,114.4 1244.6,120.0 1246.0,132.0 1247.0,126.0 1248.0,123.0 1249.4,125.0 1250.6,129.0 1251.6,124.0 1252.8,121.6 1254.0,129.0 1255.4,136.0 1256.6,137.0 1258.0,133.0 1259.4,131.0 1260.6,135.0 1262.0,133.0 1263.4,137.0 1265.0,139.0 1266.0,140.0 1267.0,134.0 1268.0,122.0 1269.4,119.0 1270.6,118.0 1272.0,119.0 1273.4,118.0 1274.6,120.0 1276.0,124.0 1277.4,123.0 1279.0,125.0 1280.4,127.0 1282.0,126.0 1283.4,130.0 1284.6,138.0 1286.0,135.0 1287.4,128.0 1288.6,125.0 1290.0,125.6 1291.4,130.0 1293.0,132.0 1294.0,140.0 1295.0,148.0 1296.0,155.6 1297.0,147.0 1298.4,148.0 1300.0,147.0 1301.4,144.0 1302.6,144.0 1303.6,149.0 1305.0,151.0 1306.0,154.0 1307.0,160.0 1308.4,155.0 1310.0,156.0 1311.4,150.0 1312.6,147.0 1314.0,146.0 1315.4,150.0 1316.4,156.0 1317.6,154.0 1319.0,154.0 1320.4,148.0 1321.6,145.6 1322.6,144.4 1323.6,150.0 1324.6,153.0 1325.6,147.0 1326.6,150.0 1327.6,154.0 1328.6,142.0 1329.6,132.0 1330.4,129.0 1331.6,134.0 1333.0,133.0 1334.0,128.0 1335.4,127.0 1336.6,122.0 1338.0,119.0 1339.4,115.0 1340.4,116.0 1341.4,122.0 1342.4,115.0 1343.4,124.0 1344.6,129.0 1346.0,128.0 1347.4,127.0 1349.0,122.0 1350.0,126.0 1351.4,132.0 1352.6,130.0 1354.0,127.0 1355.4,131.0 1357.0,129.0 1358.4,131.0 1359.6,138.0 1361.0,144.0 1362.4,147.0 1364.0,145.0 1365.4,144.0 1366.6,143.0 1367.6,149.0 1368.6,157.0 1369.6,152.0 1370.6,161.0 1371.6,162.0 1372.6,170.0 1373.6,173.0 1375.0,170.0 1376.4,166.0 1377.6,170.0 1379.0,168.0 1380.0,173.0 1381.4,176.0 1382.4,185.0 1383.0,192.0 1384.0,186.0 1385.6,186.0 1387.0,187.0 1388.0,178.0 1389.4,177.0 1391.0,176.0 1392.4,175.0 1393.4,164.0 1394.4,150.0 1395.6,147.0 1397.0,150.0 1398.4,149.0 1399.6,147.0 1400.0,146.5 1401.0,148.0 1402.0,149.0 1403.0,149.5 1403.8,153.0 1404.5,149.0 1405.2,142.5 1405.8,148.0 1406.5,149.0 1407.5,150.0 1408.5,153.0 1409.3,159.5 1410.0,154.0 1411.0,153.5 1412.0,152.0 1412.8,153.5 1413.5,150.0 1414.5,149.0 1415.2,144.0 1415.8,139.0 1416.5,138.0 1417.2,133.0 1418.0,126.0 1418.7,123.0 1419.5,120.0 1420.5,119.5 1421.5,117.8 1422.5,118.5 1423.2,121.0 1424.0,126.5 1424.7,122.0 1425.5,117.0 1426.2,112.0 1427.0,107.0 1427.7,101.5 1428.3,103.0 1429.0,105.0 1429.8,112.0 1430.5,104.0 1431.2,100.5 1431.8,104.0 1432.5,105.0 1433.5,106.5 1434.5,107.0 1435.5,108.5 1436.5,109.0 1437.5,108.5 1438.5,102.5 1439.2,103.0 1440.0,104.5 1441.0,105.0 1441.8,110.0 1442.5,113.0 1443.2,116.0 1444.0,112.0 1445.0,109.0 1446.0,105.0 1447.0,103.2 1447.8,106.0 1448.5,113.0 1449.0,119.0 1449.7,111.0 1450.5,114.0 1451.2,117.5 1452.0,117.0 1453.0,116.0 1454.0,113.0 1454.7,112.0 1455.5,114.5 1456.2,117.5 1457.0,119.0 1457.5,124.0 1458.0,129.0 1458.8,124.5 1459.5,124.0 1460.0,127.0 1460.7,130.0 1461.3,133.0 1462.0,134.5 1462.8,137.0 1463.5,143.0 1464.2,137.5 1465.0,137.0 1465.7,135.5 1466.3,140.5 1467.0,137.0 1467.8,133.0 1468.5,134.5 1469.2,131.0 1470.0,129.5 1470.7,132.0 1471.3,136.0 1472.0,138.0 1472.7,141.0 1473.5,138.0 1474.5,137.5 1475.5,139.0 1476.5,138.5 1477.5,137.5 1478.5,135.0 1479.2,132.5 1480.0,130.5 1480.7,133.0 1481.5,134.0 1482.2,129.5 1483.0,128.5 1483.8,129.0 1484.5,130.0 1485.0,133.5 1485.5,137.0 1486.2,138.5 1486.8,139.5 1487.5,137.0 1488.0,140.0 1488.5,145.0 1489.0,151.0 1489.5,156.0 1490.0,158.0 1490.5,163.0 1491.0,167.0 1491.3,174.0"/>
  <!-- legend markers -->
  <line x1="723" y1="65.2" x2="737" y2="65.2" stroke="#7b8fd8" stroke-width="1.8"/><circle cx="729.6" cy="65.2" r="3.3" fill="#6f86d6"/>
  <line x1="830.5" y1="65.2" x2="844.5" y2="65.2" stroke="#222" stroke-width="1.8"/><circle cx="837.3" cy="65.2" r="3.3" fill="#000"/>
  <!-- eth icon -->
  <circle cx="619.6" cy="28.7" r="13.6" fill="#f2f3f5"/>
  <path d="M619.6 17.1 L626.7 28.2 L619.6 32.4 L612.7 28.2 Z" fill="#262626"/>
  <path d="M619.6 17.1 L619.6 32.4 L612.7 28.2 Z" fill="#444"/>
  <path d="M619.6 23.5 L626.7 28.2 L619.6 32.4 L612.7 28.2 Z" fill="#1c1c1c" opacity="0.6"/>
  <path d="M613.1 30.6 L619.6 34.4 L619.6 39.8 Z" fill="#6a6a6a"/>
  <path d="M626.2 30.6 L619.6 34.4 L619.6 39.8 Z" fill="#333"/>
</svg>
<div class="t" id="title" style="left:641.2px;top:15.2px;font-size:28.6px;font-weight:bold;color:#111;transform-origin:0 0;transform:scaleX(0.928);">Ethereum: MVRV Z-score</div>
<div class="t" style="left:740px;top:57.3px;font-size:14.2px;color:#b7bac4;transform-origin:0 0;transform:scaleX(0.91);">MVRV Z-score</div>
<div class="t" style="left:847.3px;top:57.3px;font-size:14.2px;color:#b7bac4;transform-origin:0 0;transform:scaleX(0.91);">Price</div>
<div class="t" style="right:14.6px;top:30.4px;font-size:10.5px;font-weight:bold;color:#111;">2026-02-09</div>
<!-- left axis -->
<div class="t ax axl" style="right:1473.6px;top:82.25px;">7.58</div>
<div class="t ax axl" style="right:1473.6px;top:225.25px;">6</div>
<div class="t ax axl" style="right:1473.6px;top:405.25px;">4</div>
<div class="t ax axl" style="right:1473.6px;top:585.25px;">2</div>
<div class="t ax axl" style="right:1473.6px;top:765.25px;">0</div>
<div class="t ax axl" style="right:1473.6px;top:842.25px;">-0.84</div>
<!-- right axis -->
<div class="t ax axr" style="left:1497px;top:82.25px;">$5.581K</div>
<div class="t ax axr" style="left:1497px;top:215.25px;">$1K</div>
<div class="t ax axr" style="left:1497px;top:395.25px;">$100</div>
<div class="t ax axr" style="left:1497px;top:574.25px;">$10</div>
<div class="t ax axr" style="left:1497px;top:753.25px;">$1</div>
<div class="t ax axr" style="left:1497px;top:842.25px;">$0.32000</div>
<!-- x axis -->
<div class="t ax axx" style="left:295px;top:853.25px;">2017</div>
<div class="t ax axx" style="left:554px;top:853.25px;">2019</div>
<div class="t ax axx" style="left:814px;top:853.25px;">2021</div>
<div class="t ax axx" style="left:1073px;top:853.25px;">2023</div>
<div class="t ax axx" style="left:1333px;top:853.25px;">2025</div>
<!-- axis titles -->
<div class="t" style="left:71.6px;top:470.4px;font-size:15px;font-weight:bold;color:#9aa3b5;transform:translate(-50%,-50%) rotate(-90deg) scaleX(1.054);">MVRV Z-score</div>
<div class="t" style="left:1548.6px;top:469px;font-size:15px;font-weight:bold;color:#9aa3b5;transform:translate(-50%,-50%) rotate(-90deg) scaleX(0.99);">Price (USD)</div>
<!-- footer -->
<div class="t" style="left:21.6px;top:866.6px;font-size:13.4px;color:#4d5157;transform-origin:0 0;transform:scaleX(1.015);">Alphractal.com</div>
<div class="t" style="right:22.4px;top:866.8px;font-size:13.4px;color:#4d5157;transform-origin:100% 0;transform:scaleX(0.99);">© 2025 Alphractal. All Rights Reserved.</div>
</body></html>
